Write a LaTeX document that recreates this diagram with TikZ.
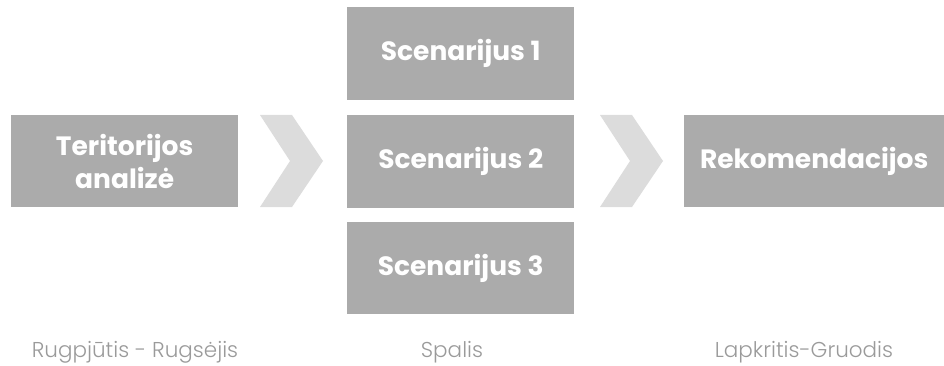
\documentclass[tikz,border=0pt]{standalone}
\usepackage{fontspec}
\setmainfont{Poppins}
\newfontfamily\poplight{Poppins Light}
\definecolor{boxgray}{HTML}{ABABAB}
\definecolor{chevgray}{HTML}{DCDCDC}
\definecolor{labgray}{HTML}{9A9A9A}
\begin{document}
\begin{tikzpicture}[x=1pt,y=-1pt,
  stagebox/.style={fill=boxgray,draw=none,text=white,font=\bfseries\fontsize{26.5}{33}\selectfont,align=center,anchor=north west,inner sep=0pt},
  chev/.style={fill=chevgray,draw=none},
  timelab/.style={text=labgray,font=\poplight\fontsize{21.5}{24}\selectfont,anchor=center}]
\useasboundingbox (0,0) rectangle (944,366);
\node[stagebox,minimum width=227pt,minimum height=92pt] (a) at (11,115) {Teritorijos\\analizė};
\node[stagebox,minimum width=227pt,minimum height=93pt] (s1) at (347,7) {Scenarijus 1};
\node[stagebox,minimum width=227pt,minimum height=93pt] (s2) at (347,115) {Scenarijus 2};
\node[stagebox,minimum width=227pt,minimum height=92pt] (s3) at (347,222) {Scenarijus 3};
\node[stagebox,minimum width=260pt,minimum height=92pt] (r) at (684,115) {Rekomendacijos};
\fill[chev] (260,115) -- (292,115) -- (323,161) -- (292,207) -- (260,207) -- (290,161) -- cycle;
\fill[chev] (600,115) -- (632,115) -- (663,161) -- (632,207) -- (600,207) -- (630,161) -- cycle;
\node[timelab] (t1) at (135,352) {Rugpjūtis - Rugsėjis};
\node[timelab] (t2) at (452,352) {Spalis};
\node[timelab] (t3) at (804,352) {Lapkritis-Gruodis};
\end{tikzpicture}
\end{document}
